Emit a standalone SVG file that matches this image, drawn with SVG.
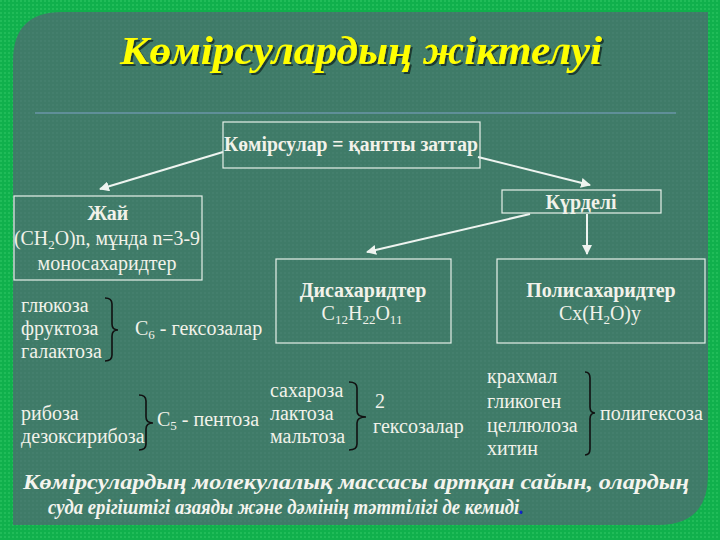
<svg xmlns="http://www.w3.org/2000/svg" width="720" height="540" viewBox="0 0 720 540">
<defs>
<style>
.t{font-family:"Liberation Serif","Times New Roman",serif;fill:#f2f2ea;font-size:20px}
.b{font-weight:bold}
.box{fill:none;stroke:#e6f0ea;stroke-width:1.2}
.con{stroke:#eef4f0;stroke-width:2;fill:none}
.br{stroke:#111;stroke-width:1.6;fill:none}
.it{font-family:"Liberation Serif","Times New Roman",serif;font-style:italic;font-weight:bold;fill:#f4f4ee;font-size:22px}
.ttl{font-family:"Liberation Serif","Times New Roman",serif;font-style:italic;font-weight:bold;font-size:40px;fill:#ffff00}
</style>
<filter id="sh" x="-5%" y="-20%" width="110%" height="140%">
<feDropShadow dx="2" dy="2" stdDeviation="0.6" flood-color="#1d3a30" flood-opacity="1"/>
</filter>
<marker id="ah" viewBox="0 0 10 10" refX="9" refY="5" markerWidth="5" markerHeight="5" orient="auto">
<path d="M0,0 L10,5 L0,10 z" fill="#eef4f0"/>
</marker>
<pattern id="dots" width="4" height="4" patternUnits="userSpaceOnUse">
<rect width="4" height="4" fill="#3f7b68"/>
<circle cx="1" cy="1" r="0.7" fill="#4d8775"/>
</pattern>
<pattern id="gdots" width="4" height="4" patternUnits="userSpaceOnUse">
<rect width="4" height="4" fill="#10b04c"/>
<circle cx="1" cy="1" r="0.8" fill="#35cc6a"/>
</pattern>
</defs>
<rect width="720" height="540" fill="url(#gdots)"/>
<path d="M62,12 L708,12 L708,475 Q708,525 658,525 L13,525 L13,61 Q13,12 62,12 Z" fill="url(#dots)"/>
<line x1="35" y1="113" x2="676" y2="113" stroke="#5f8f98" stroke-width="2"/>
<g id="title">
<text class="ttl" x="361" y="64" text-anchor="middle" textLength="482" lengthAdjust="spacingAndGlyphs" filter="url(#sh)">Көмірсулардың жіктелуі</text>
</g>
<g id="connectors">
<line class="con" x1="223" y1="152" x2="100" y2="189" marker-end="url(#ah)"/>
<line class="con" x1="478" y1="157" x2="590" y2="185" marker-end="url(#ah)"/>
<line class="con" x1="530" y1="214" x2="367" y2="252" marker-end="url(#ah)"/>
<line class="con" x1="587" y1="214" x2="587" y2="254" marker-end="url(#ah)"/>
</g>
<g id="root">
<rect class="box" x="223" y="122" width="257" height="46"/>
<text class="t b" x="351" y="151" text-anchor="middle" textLength="254" lengthAdjust="spacingAndGlyphs">Көмірсулар = қантты заттар</text>
</g>
<g id="zhai">
<rect class="box" x="14" y="196" width="188" height="84"/>
<text class="t b" x="108" y="220" text-anchor="middle">Жай</text>
<text class="t" x="107" y="245" text-anchor="middle" textLength="186" lengthAdjust="spacingAndGlyphs">(CH<tspan font-size="13" dy="4">2</tspan><tspan dy="-4">O)n, мұнда n=3-9</tspan></text>
<text class="t" x="107" y="270" text-anchor="middle">моносахаридтер</text>
</g>
<g id="kurdeli">
<rect class="box" x="502" y="190" width="159" height="23"/>
<text class="t b" x="581" y="209" text-anchor="middle">Күрделі</text>
</g>
<g id="disah">
<rect class="box" x="276" y="259" width="175" height="84"/>
<text class="t b" x="363" y="297" text-anchor="middle">Дисахаридтер</text>
<text class="t" x="362" y="320" text-anchor="middle">C<tspan font-size="13" dy="4">12</tspan><tspan dy="-4">H</tspan><tspan font-size="13" dy="4">22</tspan><tspan dy="-4">O</tspan><tspan font-size="13" dy="4">11</tspan></text>
</g>
<g id="polisah">
<rect class="box" x="497" y="259" width="208" height="84"/>
<text class="t b" x="601" y="297" text-anchor="middle">Полисахаридтер</text>
<text class="t" x="600" y="320" text-anchor="middle">Cx(H<tspan font-size="13" dy="4">2</tspan><tspan dy="-4">O)y</tspan></text>
</g>
<g id="hexoses">
<text class="t" x="21" y="312">глюкоза</text>
<text class="t" x="21" y="335">фруктоза</text>
<text class="t" x="21" y="358">галактоза</text>
<path class="br" d="M105,298 Q112,298 112,304 L112,324 Q112,330 118,330 Q112,330 112,336 L112,355 Q112,361 105,361"/>
<text class="t" x="135" y="335">C<tspan font-size="13" dy="4">6</tspan><tspan dy="-4"> - гексозалар</tspan></text>
</g>
<g id="pentoses">
<text class="t" x="21" y="420">рибоза</text>
<text class="t" x="21" y="443">дезоксирибоза</text>
<path class="br" d="M139,395 Q146,395 146,401 L146,417 Q146,423 153,423 Q146,423 146,429 L146,444 Q146,450 139,450"/>
<text class="t" x="157" y="426">C<tspan font-size="13" dy="4">5</tspan><tspan dy="-4"> - пентоза</tspan></text>
</g>
<g id="disugars">
<text class="t" x="270" y="397">сахароза</text>
<text class="t" x="270" y="420">лактоза</text>
<text class="t" x="270" y="443">мальтоза</text>
<path class="br" d="M349,382 Q357,382 357,388 L357,411 Q357,417 366,417 Q357,417 357,423 L357,444 Q357,450 349,450"/>
<text class="t" x="375" y="408">2</text>
<text class="t" x="373" y="433">гексозалар</text>
</g>
<g id="polysugars">
<text class="t" x="487" y="383">крахмал</text>
<text class="t" x="487" y="408">гликоген</text>
<text class="t" x="487" y="432">целлюлоза</text>
<text class="t" x="487" y="455">хитин</text>
<path class="br" d="M585,372 Q590,372 590,378 L590,407 Q590,413 595,413 Q590,413 590,419 L590,449 Q590,455 585,455"/>
<text class="t" x="600" y="420">полигексоза</text>
</g>
<g id="note">
<text class="it" x="356" y="489" text-anchor="middle" textLength="666" lengthAdjust="spacingAndGlyphs">Көмірсулардың молекулалық массасы артқан сайын, олардың</text>
<text class="it" x="48" y="514" textLength="476" lengthAdjust="spacingAndGlyphs">суда ерігіштігі азаяды және дәмінің тәттілігі де кемиді<tspan fill="#1020d0">.</tspan></text>
</g>
</svg>
